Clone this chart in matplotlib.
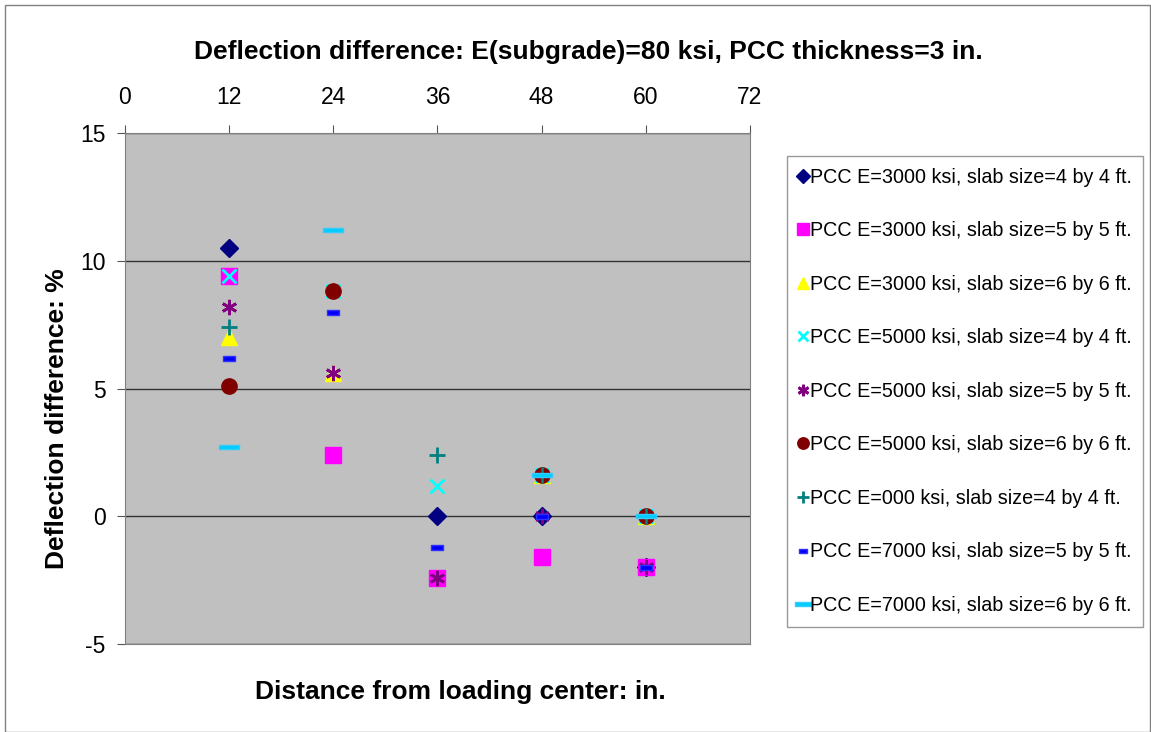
import numpy as np
import matplotlib
matplotlib.use("Agg")
import matplotlib.pyplot as plt
from matplotlib.patches import Rectangle

plt.rcParams['font.family'] = ['Liberation Sans', 'DejaVu Sans']
plt.rcParams['axes.unicode_minus'] = False

# Distancia desde el centro de carga (in.)
distancia = [12, 24, 36, 48, 60]

# Diferencia de deflexion (%) para cada serie; nan = punto no visible
e3000_4x4 = [10.5, np.nan, 0.0, 0.0, -2.0]
e3000_5x5 = [9.4, 2.4, -2.4, -1.6, -2.0]
e3000_6x6 = [7.0, 5.6, np.nan, 1.6, 0.0]
e5000_4x4 = [9.4, 8.8, 1.2, 1.6, 0.0]
e5000_5x5 = [8.2, 5.6, -2.4, 0.0, -2.0]
e5000_6x6 = [5.1, 8.8, np.nan, 1.6, 0.0]
e000_4x4 = [7.4, np.nan, 2.4, 1.6, 0.0]
e7000_5x5 = [6.2, 8.0, -1.2, 0.0, -2.0]
e7000_6x6 = [2.7, 11.2, np.nan, 1.6, 0.0]

etiquetas = [
    "PCC E=3000 ksi, slab size=4 by 4 ft.",
    "PCC E=3000 ksi, slab size=5 by 5 ft.",
    "PCC E=3000 ksi, slab size=6 by 6 ft.",
    "PCC E=5000 ksi, slab size=4 by 4 ft.",
    "PCC E=5000 ksi, slab size=5 by 5 ft.",
    "PCC E=5000 ksi, slab size=6 by 6 ft.",
    "PCC E=000 ksi, slab size=4 by 4 ft.",
    "PCC E=7000 ksi, slab size=5 by 5 ft.",
    "PCC E=7000 ksi, slab size=6 by 6 ft.",
]
series = [e3000_4x4, e3000_5x5, e3000_6x6, e5000_4x4, e5000_5x5,
          e5000_6x6, e000_4x4, e7000_5x5, e7000_6x6]

# marcadores tipo guion (rectangulos planos)
guion_corto = [(-1, -0.45), (1, -0.45), (1, 0.45), (-1, 0.45), (-1, -0.45)]
guion_largo = [(-1, -0.22), (1, -0.22), (1, 0.22), (-1, 0.22), (-1, -0.22)]

estilos = [
    dict(marker='D', color='#000080', ms=9),
    dict(marker='s', color='#FF00FF', ms=11),
    dict(marker='^', color='#FFFF00', ms=12),
    dict(marker='x', color='#00FFFF', ms=10, mew=2),
    dict(marker=(6, 2, 0), color='#800080', ms=11, mew=2),
    dict(marker='o', color='#800000', ms=11),
    dict(marker='+', color='#008080', ms=11, mew=2),
    dict(marker=guion_corto, color='#0000FF', ms=8, mfc='#0000FF', mec='#3030FF'),
    dict(marker=guion_largo, color='#00CCFF', ms=15, mfc='#00CCFF', mec='#33CCFF'),
]

fig = plt.figure(figsize=(11.51, 7.32), dpi=100)
ax = fig.add_axes([0.1086, 0.1202, 0.5430, 0.6981])
ax.set_facecolor('#C0C0C0')

for valores, etiqueta, estilo in zip(series, etiquetas, estilos):
    ax.plot(distancia, valores, linestyle='none', label=etiqueta, zorder=3, **estilo)

ax.set_xlim(0, 72)
ax.set_ylim(-5, 15)
ax.set_xticks(np.arange(0, 73, 12))
ax.set_yticks([-5, 0, 5, 10, 15])
ax.xaxis.tick_top()
ax.xaxis.set_label_position('bottom')
ax.tick_params(axis='both', labelsize=16.5, direction='out', length=6, color='#555555')
ax.tick_params(axis='x', pad=11)
ax.tick_params(axis='y', pad=8)
ax.grid(axis='y', color='#333333', linewidth=1)
ax.set_axisbelow(True)
for lado in ax.spines.values():
    lado.set_color('#808080')

fig.text(588 / 1151, 1 - 52 / 732,
         "Deflection difference: E(subgrade)=80 ksi, PCC thickness=3 in.",
         fontsize=19, fontweight='bold', ha='center', va='center')
ax.set_xlabel("Distance from loading center: in.", fontsize=19, fontweight='bold')
ax.xaxis.set_label_coords(0.537, -0.07)
ax.set_ylabel("Deflection difference: %", fontsize=19, fontweight='bold')
ax.yaxis.set_label_coords(-0.089, 0.442)

ley = ax.legend(loc='upper left', bbox_to_anchor=(1.059, 0.955), fontsize=14.2,
                frameon=True, fancybox=False, edgecolor='#808080', labelspacing=1.75,
                handlelength=0.4, handletextpad=0.15, borderpad=0.6, borderaxespad=0,
                markerscale=0.75)
ley.get_frame().set_linewidth(1)

# borde exterior de la figura
fig.patches.append(Rectangle((0.004, 0.0), 0.995, 0.993, transform=fig.transFigure,
                             fill=False, edgecolor='#808080', linewidth=1))

fig.savefig("out.png", dpi=100)
